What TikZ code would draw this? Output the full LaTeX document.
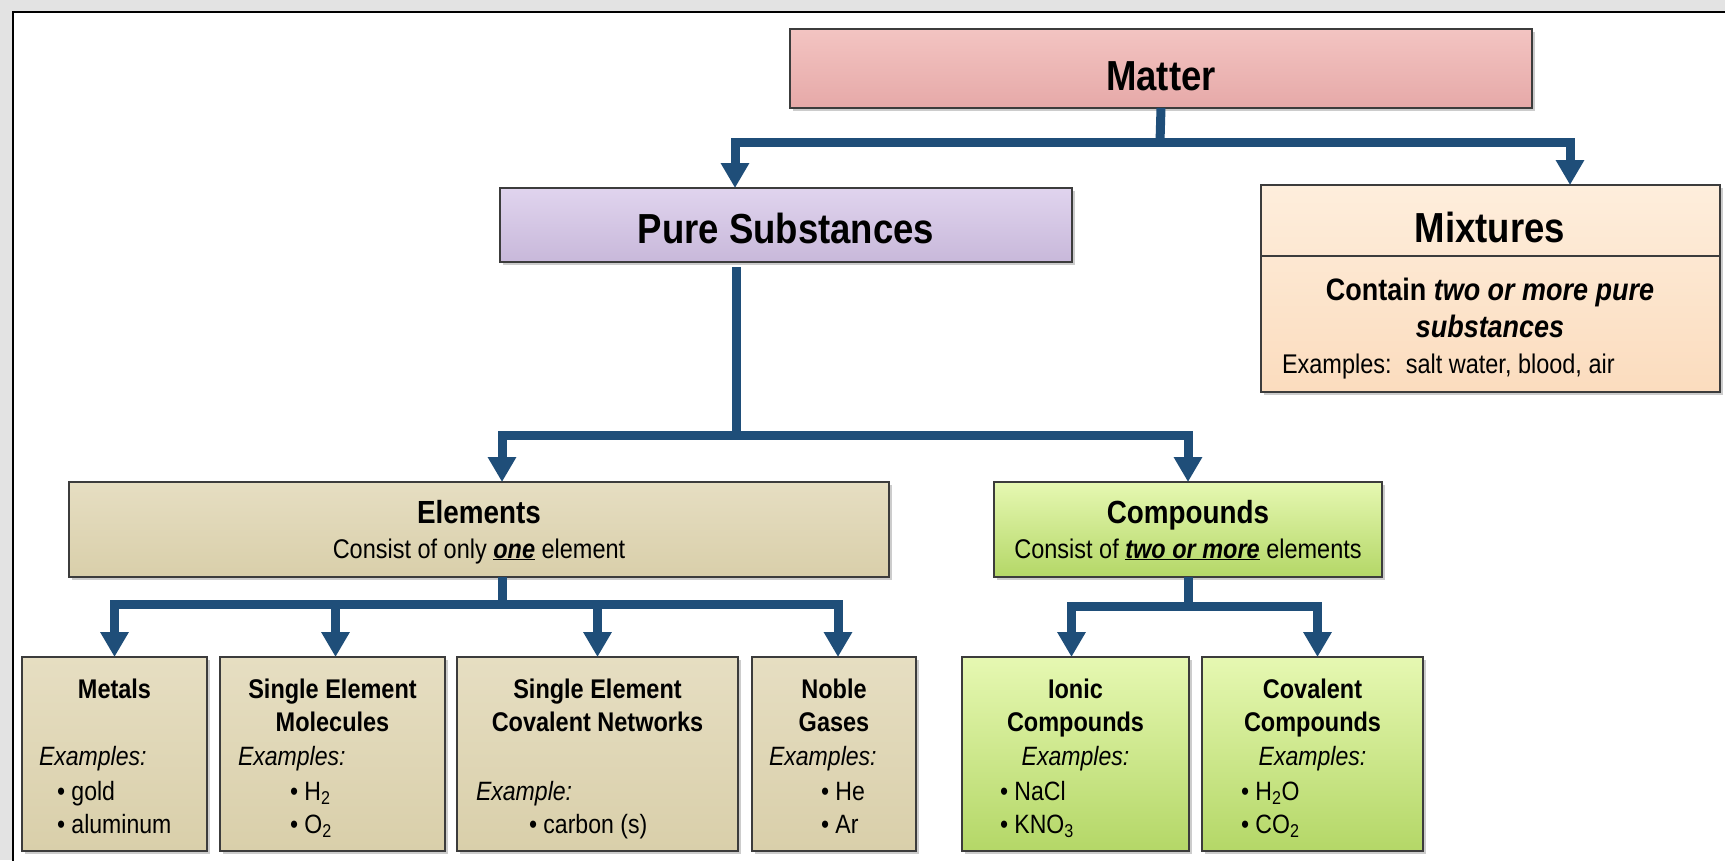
\documentclass[tikz,border=0pt]{standalone}
\usepackage{fontspec}
\setmainfont{Liberation Sans}[FakeStretch=0.87]
\usetikzlibrary{shadows,arrows.meta}
\definecolor{bgray}{HTML}{E3E3E3}
\definecolor{conn}{HTML}{1F4E79}
\definecolor{edge}{HTML}{3C3C3C}
\definecolor{pinkT}{HTML}{F3C4C2}\definecolor{pinkB}{HTML}{E6A9A8}
\definecolor{lilT}{HTML}{E0D4EE}\definecolor{lilB}{HTML}{C8B8DA}
\definecolor{peachT}{HTML}{FEEEDC}\definecolor{peachB}{HTML}{FBDCBE}
\definecolor{tanT}{HTML}{E6DEC2}\definecolor{tanB}{HTML}{D9CFAA}
\definecolor{grnT}{HTML}{E6F8B2}\definecolor{grnB}{HTML}{B4D767}
\newcommand\fs[1]{\fontsize{#1}{#1}\selectfont}
\begin{document}
\begin{tikzpicture}[x=1pt,y=-1pt,
  boxbase/.style={rectangle,draw=edge,line width=1.8pt,inner sep=0pt,outer sep=0pt,
    drop shadow={shadow xshift=2.5pt,shadow yshift=-3pt,opacity=0.4}},
  pinkbox/.style={boxbase,top color=pinkT,bottom color=pinkB},
  lilbox/.style={boxbase,top color=lilT,bottom color=lilB},
  peachbox/.style={boxbase,top color=peachT,bottom color=peachB},
  tanbox/.style={boxbase,top color=tanT,bottom color=tanB},
  grnbox/.style={boxbase,top color=grnT,bottom color=grnB},
  conn/.style={draw=conn,line width=9pt,-{Triangle[width=27pt,length=25pt]}},
  connline/.style={draw=conn,line width=9pt},
  tx/.style={inner sep=0pt,outer sep=0pt,anchor=base},
  txl/.style={inner sep=0pt,outer sep=0pt,anchor=base west},
  big/.style={font=\fs{42}\bfseries},
  mid/.style={font=\fs{32}\bfseries},
  sub/.style={font=\fs{27}},
  sml/.style={font=\fs{26.5}},
  smb/.style={font=\fs{27}\bfseries},
  smi/.style={font=\fs{26.5}\itshape}]
\useasboundingbox (0,0) rectangle (1725,860);
\fill[bgray] (0,0) rectangle (1725,860);
\draw[line width=2.5pt,fill=white] (13,12) rectangle (1780,900);

% boxes: name, style, x1, y1, x2, y2
\newcommand\bx[6]{\node[#2,minimum width={#5-#3},minimum height={#6-#4}] (#1) at ({(#3+#5)/2},{(#4+#6)/2}) {};}
\bx{matter}{pinkbox}{790}{29}{1532}{108}
\bx{pure}{lilbox}{500}{188}{1072}{262}
\bx{mix}{peachbox}{1261}{185}{1720}{392}
\bx{elem}{tanbox}{69}{482}{889}{577}
\bx{comp}{grnbox}{994}{482}{1382}{577}
\bx{met}{tanbox}{22}{657}{207}{851}
\bx{sem}{tanbox}{220}{657}{445}{851}
\bx{secn}{tanbox}{457}{657}{738}{851}
\bx{noble}{tanbox}{752}{657}{916}{851}
\bx{ionic}{grnbox}{962}{657}{1189}{851}
\bx{coval}{grnbox}{1202}{657}{1423}{851}
\draw[edge,line width=1.8pt] (mix.west |- 0,256) coordinate (mixdl) -- (mix.east |- 0,256) coordinate (mixdr);

% connectors
\coordinate (j1) at (1160,142);
\coordinate (j2) at (736,435);
\coordinate (j3) at (502,604);
\coordinate (j4) at (1188,606);
\draw[connline] (matter.south) -- (j1);
\draw[conn] (j1) -| ([xshift=-51pt]pure.north);
\draw[conn] (j1) -| ([xshift=79.5pt]mix.north);
\draw[connline] ([xshift=-50pt,yshift=-5pt]pure.south) -- (j2);
\draw[conn] (j2) -| ([xshift=23pt]elem.north);
\draw[conn] (j2) -| (comp.north);
\draw[connline] ([xshift=23pt]elem.south) -- (j3);
\draw[conn] (j3) -| (met.north);
\draw[conn] (j3) -| ([xshift=3pt]sem.north);
\draw[conn] (j3) -| (secn.north);
\draw[conn] (j3) -| ([xshift=4pt]noble.north);
\draw[connline] (comp.south) -- (j4);
\draw[conn] (j4) -| ([xshift=-4pt]ionic.north);
\draw[conn] (j4) -| ([xshift=5pt]coval.north);

% texts
\node[tx,big] (tmatter) at (1161,90) {Matter};
\node[tx,big] (tpure) at (786,243) {Pure Substances};
\node[tx,big] (tmix) at (1490,242) {Mixtures};
\node[tx,font=\fs{31}\bfseries] (tmix1) at (1490,300) {Contain \textit{two or more pure}};
\node[tx,font=\fs{31}\bfseries\itshape] (tmix2) at (1490,337) {substances};
\node[txl,sub] (tmix3) at (1282,373) {Examples:\hspace{0.2em} salt water, blood, air};

\node[tx,mid] (telem) at (479,523) {Elements};
\node[tx,sub] (telem2) at (479,558) {Consist of only \underline{\textbf{\textit{one}}} element};
\node[tx,mid] (tcomp) at (1188,523) {Compounds};
\node[tx,sub] (tcomp2) at (1188,558) {Consist of \underline{\textbf{\textit{two or more}}} elements};

% Metals
\node[tx,smb] (tmet1) at (114.5,698) {Metals};
\node[txl,smi] (tmet2) at (39,765) {Examples:};
\node[txl,sml] (tmet3) at (57,800) {\textbullet\ gold};
\node[txl,sml] (tmet4) at (57,833) {\textbullet\ aluminum};
% Single element molecules
\node[tx,smb] (tsem1) at (332.5,698) {Single Element};
\node[tx,smb] (tsem2) at (332.5,731) {Molecules};
\node[txl,smi] (tsem3) at (238,765) {Examples:};
\node[txl,sml] (tsem4) at (290,800) {\textbullet\ H\textsubscript{2}};
\node[txl,sml] (tsem5) at (290,833) {\textbullet\ O\textsubscript{2}};
% Single element covalent networks
\node[tx,smb] (tsecn1) at (597.5,698) {Single Element};
\node[tx,smb] (tsecn2) at (597.5,731) {Covalent Networks};
\node[txl,smi] (tsecn3) at (476,800) {Example:};
\node[txl,sml] (tsecn4) at (529,833) {\textbullet\ carbon (s)};
% Noble gases
\node[tx,smb] (tnob1) at (834,698) {Noble};
\node[tx,smb] (tnob2) at (834,731) {Gases};
\node[txl,smi] (tnob3) at (769,765) {Examples:};
\node[txl,sml] (tnob4) at (821,800) {\textbullet\ He};
\node[txl,sml] (tnob5) at (821,833) {\textbullet\ Ar};
% Ionic
\node[tx,smb] (tion1) at (1075.5,698) {Ionic};
\node[tx,smb] (tion2) at (1075.5,731) {Compounds};
\node[tx,smi] (tion3) at (1075.5,765) {Examples:};
\node[txl,sml] (tion4) at (1000,800) {\textbullet\ NaCl};
\node[txl,sml] (tion5) at (1000,833) {\textbullet\ KNO\textsubscript{3}};
% Covalent
\node[tx,smb] (tcov1) at (1312.5,698) {Covalent};
\node[tx,smb] (tcov2) at (1312.5,731) {Compounds};
\node[tx,smi] (tcov3) at (1312.5,765) {Examples:};
\node[txl,sml] (tcov4) at (1241,800) {\textbullet\ H\textsubscript{2}O};
\node[txl,sml] (tcov5) at (1241,833) {\textbullet\ CO\textsubscript{2}};
\end{tikzpicture}
\end{document}
